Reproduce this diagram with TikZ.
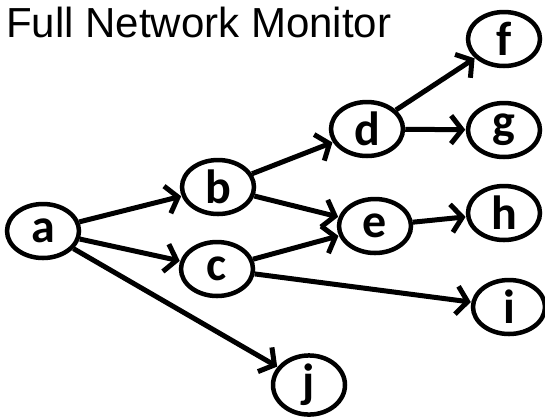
\documentclass[tikz,border=0pt]{standalone}
\usepackage{fontspec}
\setmainfont{Liberation Sans}
\newfontfamily\nodefont{Carlito}
\usetikzlibrary{arrows.meta,shapes.geometric}
\begin{document}
\begin{tikzpicture}[x=1pt,y=-1pt,
  vtx/.style={ellipse,draw,line width=4.5pt,minimum width=72pt,minimum height=54pt,inner sep=0pt,
    font=\nodefont\bfseries\fontsize{48}{48}\selectfont},
  edge/.style={line width=5pt,-{Straight Barb[length=11pt,width=28pt,line width=5pt]},shorten >=0.5pt}]
\useasboundingbox (0,0) rectangle (545,416);
\node[anchor=base west,inner sep=0pt,font=\fontsize{42}{42}\selectfont] (title) at (6,37) {Full Network Monitor};
\node[vtx] (a) at (43,231) {a};
\node[vtx] (b) at (218,187) {b};
\node[vtx] (c) at (217,269) {c};
\node[vtx] (d) at (367,129) {d};
\node[vtx] (e) at (375,226) {e};
\node[vtx] (f) at (504,39) {f};
\node[vtx] (g) at (504,130) {g};
\node[vtx] (h) at (504,213) {h};
\node[vtx] (i) at (509,307) {i};
\node[vtx] (j) at (309,385) {j};
\draw[edge] (a) -- (b);
\draw[edge] (a) -- (c);
\draw[edge] (a) -- (j);
\draw[edge] (b) -- (d);
\draw[edge] (b) -- (e);
\draw[edge] (c) -- (e);
\draw[edge] (c) -- (i);
\draw[edge] (d) -- (f);
\draw[edge] (d) -- (g);
\draw[edge] (e) -- (h);
\end{tikzpicture}
\end{document}
